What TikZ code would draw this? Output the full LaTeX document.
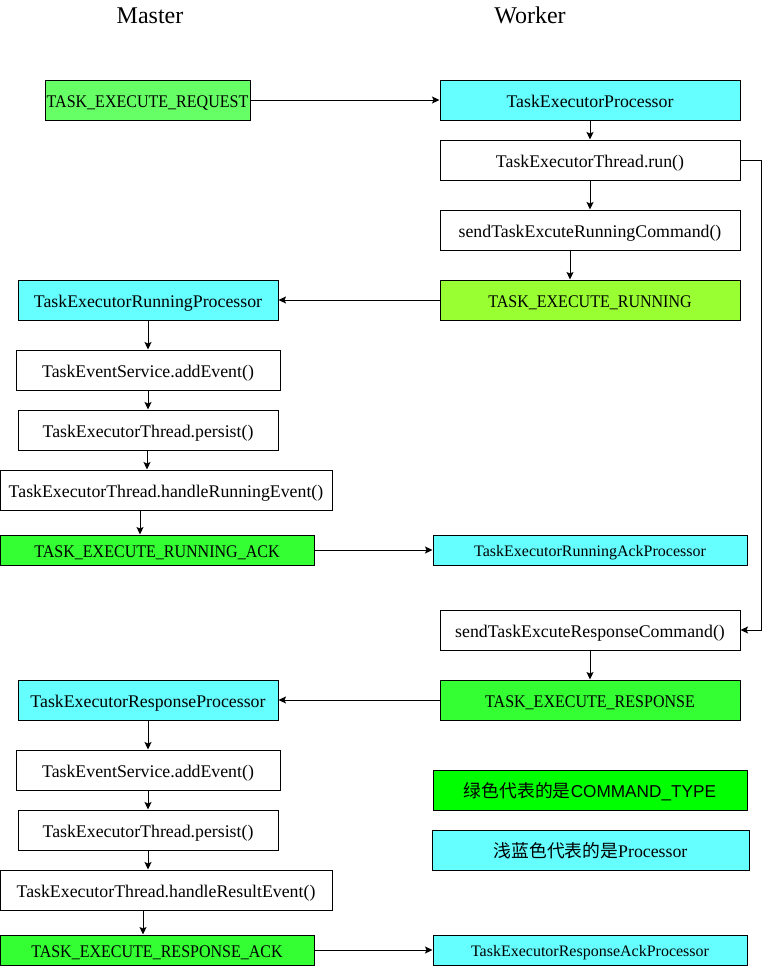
\documentclass[tikz,border=0pt]{standalone}
\usepackage{graphicx}
\usepackage{fontspec}
\setmainfont{Liberation Serif}
\newfontfamily\cjk{Noto Sans CJK SC}
\newfontfamily\sansf{Liberation Sans}
\usetikzlibrary{arrows.meta}
\definecolor{reqgreen}{HTML}{66FF66}
\definecolor{cyanp}{HTML}{66FFFF}
\definecolor{rungreen}{HTML}{99FF33}
\definecolor{brightgreen}{HTML}{33FF33}
\definecolor{legendgreen}{HTML}{00FF00}
\newcommand{\capst}[1]{\scalebox{0.9}[1]{#1}}
\begin{document}
\begin{tikzpicture}[x=1pt,y=-1pt,
  box/.style={draw, line width=1pt, inner sep=0pt, minimum height=40pt, minimum width=300pt,
    font=\fontsize{17.8}{20}\selectfont, text height=15.5pt, text depth=0pt},
  sbox/.style={box, minimum height=30pt, minimum width=314pt},
  smallf/.style={font=\fontsize{16}{18}\selectfont, text height=13.6pt},
  arr/.style={line width=1pt, -{Stealth[length=7.5pt,width=7pt,inset=1.5pt]}},
  title/.style={font=\fontsize{24}{26}\selectfont, inner sep=0pt, anchor=base}]
\useasboundingbox (0,0) rectangle (769,966);
\node[title] (master) at (150,24) {Master};
\node[title] (worker) at (530,24) {Worker};
% worker column
\node[box, fill=reqgreen, minimum width=205pt] (req) at (147.5,100) {\capst{TASK\_EXECUTE\_REQUEST}};
\node[box, fill=cyanp] (proc) at (590,100) {TaskExecutorProcessor};
\node[box] (run) at (590,160) {TaskExecutorThread.run()};
\node[box] (sendrun) at (590,230) {sendTaskExcuteRunningCommand()};
\node[box, fill=rungreen] (running) at (590,300) {\capst{TASK\_EXECUTE\_RUNNING}};
% master running
\node[box, fill=cyanp, minimum width=260pt] (runproc) at (148,300) {TaskExecutorRunningProcessor};
\node[box, minimum width=264pt] (add1) at (148,370) {TaskEventService.addEvent()};
\node[box, minimum width=260pt] (pers1) at (148,430) {TaskExecutorThread.persist()};
\node[box, minimum width=332pt] (hrun) at (166,490) {TaskExecutorThread.handleRunningEvent()};
\node[sbox, fill=brightgreen] (runack) at (157,550) {\capst{TASK\_EXECUTE\_RUNNING\_ACK}};
\node[sbox, fill=cyanp, smallf] (runackproc) at (590,550) {TaskExecutorRunningAckProcessor};
% response
\node[box] (sendresp) at (590,630) {sendTaskExcuteResponseCommand()};
\node[box, fill=brightgreen] (resp) at (590,700) {\capst{TASK\_EXECUTE\_RESPONSE}};
\node[box, fill=cyanp, minimum width=260pt] (respproc) at (148,700) {TaskExecutorResponseProcessor};
\node[box, minimum width=264pt] (add2) at (148,770) {TaskEventService.addEvent()};
\node[box, minimum width=260pt] (pers2) at (148,830) {TaskExecutorThread.persist()};
\node[box, minimum width=332pt] (hres) at (166,890) {TaskExecutorThread.handleResultEvent()};
\node[sbox, fill=brightgreen] (respack) at (157,950) {\capst{TASK\_EXECUTE\_RESPONSE\_ACK}};
\node[sbox, fill=cyanp, smallf] (respackproc) at (590,950) {TaskExecutorResponseAckProcessor};
% legend
\node[box, fill=legendgreen, minimum width=314pt] (leg1) at (590,790) {{\cjk 绿色代表的是}{\sansf\fontsize{17.2}{19}\selectfont COMMAND\_TYPE}};
\node[box, fill=cyanp, minimum width=317pt] (leg2) at (590.5,850) {{\cjk 浅蓝色代表的是}Processor};
% connectors
\draw[arr] (req) -- (proc);
\draw[arr] (proc) -- (run);
\draw[arr] (run) -- (sendrun);
\draw[arr] (sendrun.south -| 570,0) -- (running.north -| 570,0);
\draw[arr] (running) -- (runproc);
\draw[arr] (runproc) -- (add1);
\draw[arr] (add1) -- (pers1);
\draw[arr] (pers1.south -| 147,0) -- (hrun.north -| 147,0);
\draw[arr] (hrun.south -| 140,0) -- (runack.north -| 140,0);
\draw[arr] (runack) -- (runackproc);
\draw[arr] (run.east) -- ++(21,0) |- (sendresp.east);
\draw[arr] (sendresp) -- (resp);
\draw[arr] (resp) -- (respproc);
\draw[arr] (respproc) -- (add2);
\draw[arr] (add2) -- (pers2);
\draw[arr] (pers2.south -| 148,0) -- (hres.north -| 148,0);
\draw[arr] (hres.south -| 143,0) -- (respack.north -| 143,0);
\draw[arr] (respack) -- (respackproc);
\end{tikzpicture}
\end{document}
